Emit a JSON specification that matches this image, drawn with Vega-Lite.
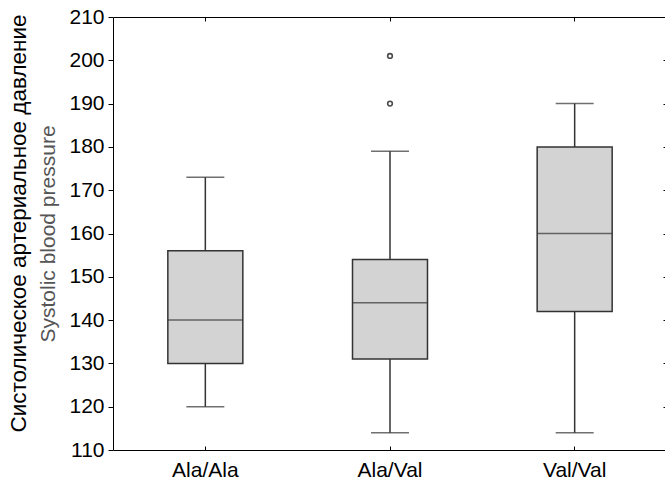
{
  "$schema": "https://vega.github.io/schema/vega-lite/v6.json",
  "width": 554,
  "height": 433,
  "autosize": "none",
  "padding": {"left": 113, "top": 17, "right": 0, "bottom": 30},
  "background": "white",
  "config": {
    "font": "Liberation Sans",
    "view": {"stroke": "black", "strokeWidth": 1},
    "axis": {"domain": false, "grid": false, "labelFont": "Liberation Sans", "labelFontSize": 21, "labelColor": "black", "tickColor": "black", "titleFont": "Liberation Sans", "titleFontWeight": "normal"}
  },
  "datasets": {
    "stats": [
      {"g": "Ala/Ala", "lo": 120, "q1": 130, "med": 140, "q3": 156, "hi": 173},
      {"g": "Ala/Val", "lo": 114, "q1": 131, "med": 144, "q3": 154, "hi": 179},
      {"g": "Val/Val", "lo": 114, "q1": 142, "med": 160, "q3": 180, "hi": 190}
    ],
    "outliers": [
      {"g": "Ala/Val", "v": 190},
      {"g": "Ala/Val", "v": 201}
    ]
  },
  "layer": [
    {
      "data": {"name": "stats"},
      "mark": {"type": "rule", "color": "#333333", "strokeWidth": 1.5},
      "encoding": {
        "x": {"field": "g", "type": "nominal", "sort": null, "scale": {"type": "band", "paddingInner": 0, "paddingOuter": 0},
              "axis": {"orient": "bottom", "title": null, "labelAngle": 0, "tickSize": -4, "labelPadding": 13}},
        "y": {"field": "lo", "type": "quantitative", "scale": {"domain": [110, 210], "nice": false, "zero": false},
              "axis": {"orient": "left", "values": [110,120,130,140,150,160,170,180,190,200,210], "tickSize": 5, "labelPadding": 4,
                       "title": "Systolic blood pressure", "titleColor": "#555555", "titleFontSize": 21, "titlePadding": 10}},
        "y2": {"field": "hi"}
      }
    },
    {
      "data": {"name": "stats"},
      "mark": {"type": "tick", "color": "#333333", "size": 38, "thickness": 1.5},
      "encoding": {
        "x": {"field": "g", "type": "nominal", "sort": null, "scale": {"type": "band", "paddingInner": 0, "paddingOuter": 0}, "axis": null},
        "y": {"field": "lo", "type": "quantitative", "axis": null}
      }
    },
    {
      "data": {"name": "stats"},
      "mark": {"type": "tick", "color": "#333333", "size": 38, "thickness": 1.5},
      "encoding": {
        "x": {"field": "g", "type": "nominal", "sort": null, "scale": {"type": "band", "paddingInner": 0, "paddingOuter": 0}, "axis": null},
        "y": {"field": "hi", "type": "quantitative", "axis": null}
      }
    },
    {
      "data": {"name": "stats"},
      "mark": {"type": "bar", "size": 75, "fill": "#d3d3d3", "stroke": "#333333", "strokeWidth": 1.5},
      "encoding": {
        "x": {"field": "g", "type": "nominal", "sort": null, "scale": {"type": "band", "paddingInner": 0, "paddingOuter": 0},
              "axis": {"orient": "top", "title": null, "labels": false, "tickSize": -4}},
        "y": {"field": "q1", "type": "quantitative",
              "axis": {"orient": "right", "title": null, "labels": false, "values": [120,130,140,150,160,170,180,190,200], "tickSize": -4}},
        "y2": {"field": "q3"}
      }
    },
    {
      "data": {"name": "stats"},
      "mark": {"type": "tick", "color": "#333333", "size": 75, "thickness": 1.5},
      "encoding": {
        "x": {"field": "g", "type": "nominal", "sort": null, "scale": {"type": "band", "paddingInner": 0, "paddingOuter": 0}, "axis": null},
        "y": {"field": "med", "type": "quantitative",
              "axis": {"orient": "left", "labels": false, "ticks": false, "title": "Систолическое артериальное давление", "titleColor": "black", "titleFontSize": 22.5, "titlePadding": 83, "titleY": 206}}
      }
    },
    {
      "data": {"name": "outliers"},
      "mark": {"type": "point", "shape": "circle", "filled": false, "color": "black", "strokeWidth": 1.6, "size": 22},
      "encoding": {
        "x": {"field": "g", "type": "nominal", "sort": null, "scale": {"type": "band", "paddingInner": 0, "paddingOuter": 0}, "axis": null},
        "y": {"field": "v", "type": "quantitative", "axis": null}
      }
    }
  ],
  "resolve": {"axis": {"x": "independent", "y": "independent"}}
}
